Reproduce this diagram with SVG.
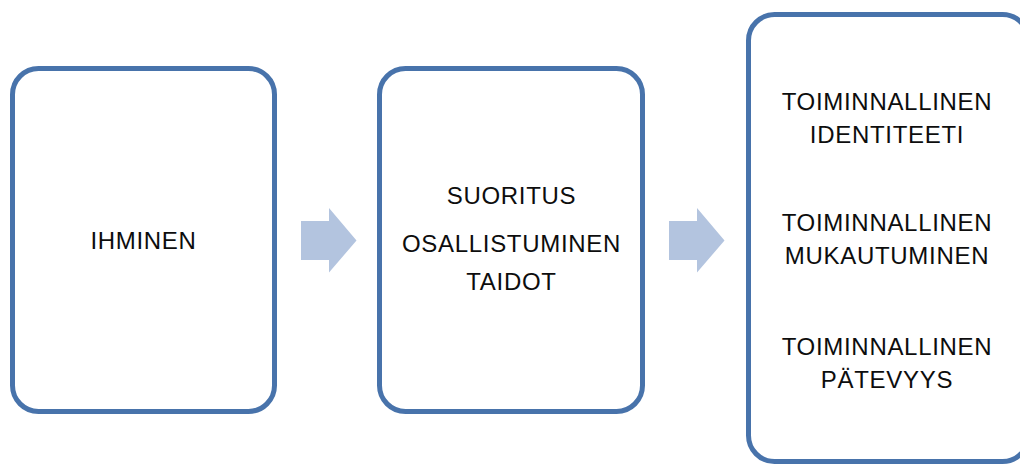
<svg xmlns="http://www.w3.org/2000/svg" width="1020" height="464" viewBox="0 0 1020 464">
  <style>
    .box { fill: #ffffff; stroke: #4873ab; stroke-width: 5; }
    .arrow { fill: #b3c4df; }
    .label { font-family: "Liberation Sans", Arial, sans-serif; font-size: 24px; fill: #0d0d0d; text-anchor: middle; letter-spacing: 0.7px; }
  </style>
  <rect width="1020" height="464" fill="#ffffff"/>

  <g id="connectors">
    <polygon class="arrow" points="301,221 329,221 329,208 356.5,240.5 329,272.5 329,260 301,260"/>
    <polygon class="arrow" points="669,221 697,221 697,208 724.5,240.5 697,272.5 697,260 669,260"/>
  </g>

  <g id="node-ihminen">
    <rect class="box" x="12.5" y="68.5" width="262" height="343" rx="26" ry="26"/>
    <text class="label" x="143.5" y="248.5">IHMINEN</text>
  </g>

  <g id="node-suoritus">
    <rect class="box" x="379.5" y="68.5" width="263" height="343" rx="26" ry="26"/>
    <text class="label" x="511.5" y="204">SUORITUS</text>
    <text class="label" x="511.5" y="252">OSALLISTUMINEN</text>
    <text class="label" x="511.5" y="290">TAIDOT</text>
  </g>

  <g id="node-toiminnallinen">
    <rect class="box" x="748.5" y="14.5" width="280" height="447" rx="26" ry="26"/>
    <text class="label" x="887" y="109.5">TOIMINNALLINEN</text>
    <text class="label" x="887" y="142.5">IDENTITEETI</text>
    <text class="label" x="887" y="231">TOIMINNALLINEN</text>
    <text class="label" x="887" y="264">MUKAUTUMINEN</text>
    <text class="label" x="887" y="355">TOIMINNALLINEN</text>
    <text class="label" x="887" y="388">PÄTEVYYS</text>
  </g>
</svg>
